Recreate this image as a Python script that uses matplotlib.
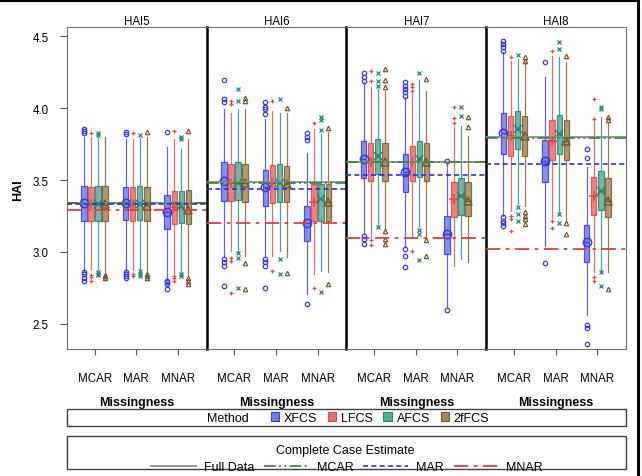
import numpy as np
import matplotlib
matplotlib.use("Agg")
import matplotlib.pyplot as plt
from matplotlib.patches import Patch, Rectangle
from matplotlib.lines import Line2D

plt.rcParams["font.family"] = ["Liberation Sans", "DejaVu Sans"]

PANELS = ["HAI5", "HAI6", "HAI7", "HAI8"]
MISSINGNESS = ["MCAR", "MAR", "MNAR"]
METHODS = ["XFCS", "LFCS", "AFCS", "2fFCS"]

# box stats per panel, rows = MCAR(X,L,A,2f), MAR(...), MNAR(...)
# columns: whisker low, q1, median, q3, whisker high, mean
HAI5_BOX = [
    [2.870, 3.218, 3.338, 3.461, 3.796, 3.338],
    [2.882, 3.218, 3.330, 3.454, 3.800, 3.330],
    [2.875, 3.218, 3.330, 3.461, 3.800, 3.335],
    [2.860, 3.213, 3.325, 3.461, 3.796, 3.330],
    [2.870, 3.222, 3.338, 3.454, 3.785, 3.338],
    [2.875, 3.218, 3.330, 3.449, 3.785, 3.330],
    [2.870, 3.222, 3.333, 3.461, 3.790, 3.335],
    [2.865, 3.218, 3.325, 3.449, 3.796, 3.320],
    [2.810, 3.160, 3.275, 3.396, 3.727, 3.280],
    [2.847, 3.194, 3.310, 3.426, 3.785, 3.310],
    [2.850, 3.200, 3.315, 3.426, 3.715, 3.320],
    [2.840, 3.194, 3.290, 3.431, 3.785, 3.290],
]
HAI5_OUT = [
    [3.854, 3.838, 3.825, 2.860, 2.845, 2.820, 2.800],
    [3.824, 2.840, 2.825, 2.800],
    [3.830, 3.815, 2.860, 2.850, 2.840],
    [2.840, 2.830, 2.820],
    [3.835, 3.820, 2.860, 2.848, 2.835, 2.820],
    [3.824, 2.845, 2.830],
    [3.815, 2.865, 2.850, 2.835],
    [3.831, 2.850, 2.835, 2.820],
    [3.831, 2.800, 2.790, 2.775, 2.740],
    [3.838, 2.835, 2.820, 2.800],
    [3.800, 3.785, 2.845, 2.835],
    [3.838, 2.820, 2.800, 2.780],
]

HAI6_BOX = [
    [2.963, 3.356, 3.490, 3.623, 3.993, 3.490],
    [3.010, 3.356, 3.480, 3.609, 3.963, 3.480],
    [3.000, 3.363, 3.480, 3.623, 3.993, 3.480],
    [2.970, 3.349, 3.480, 3.611, 3.993, 3.480],
    [2.963, 3.322, 3.450, 3.569, 3.924, 3.450],
    [2.970, 3.340, 3.477, 3.604, 3.981, 3.477],
    [3.009, 3.345, 3.480, 3.611, 3.963, 3.480],
    [2.963, 3.345, 3.470, 3.600, 3.963, 3.470],
    [2.708, 3.079, 3.200, 3.322, 3.690, 3.200],
    [2.847, 3.213, 3.350, 3.472, 3.854, 3.350],
    [2.870, 3.218, 3.368, 3.472, 3.819, 3.368],
    [2.859, 3.213, 3.350, 3.472, 3.831, 3.350],
]
HAI6_OUT = [
    [4.194, 4.060, 4.040, 2.950, 2.930, 2.905, 2.766],
    [4.050, 4.030, 2.960, 2.940, 2.715],
    [4.132, 4.050, 2.990, 2.960, 2.750],
    [4.070, 4.046, 2.920, 2.743],
    [4.040, 4.010, 3.990, 3.960, 2.950, 2.930, 2.905, 2.748],
    [4.050, 2.866],
    [4.062, 2.950, 2.847],
    [3.998, 2.852],
    [3.830, 3.800, 3.780, 2.639],
    [3.893, 2.748],
    [3.940, 3.917, 3.847, 2.720],
    [3.861, 2.778],
]

HAI7_BOX = [
    [3.125, 3.512, 3.646, 3.773, 4.178, 3.646],
    [3.102, 3.491, 3.623, 3.755, 4.148, 3.623],
    [3.183, 3.539, 3.670, 3.785, 4.132, 3.670],
    [3.155, 3.491, 3.623, 3.757, 4.120, 3.623],
    [3.032, 3.419, 3.553, 3.680, 4.074, 3.553],
    [3.102, 3.491, 3.623, 3.738, 4.097, 3.623],
    [3.171, 3.519, 3.646, 3.773, 4.194, 3.646],
    [3.102, 3.491, 3.623, 3.755, 4.120, 3.623],
    [2.616, 2.986, 3.125, 3.252, 3.620, 3.125],
    [2.905, 3.241, 3.368, 3.488, 3.866, 3.368],
    [2.951, 3.259, 3.390, 3.511, 3.877, 3.390],
    [2.933, 3.252, 3.356, 3.484, 3.808, 3.356],
]
HAI7_OUT = [
    [4.240, 4.213, 4.190, 3.113, 3.090, 3.055],
    [4.260, 4.185, 3.083, 3.049],
    [4.240, 4.185, 4.155, 3.171],
    [4.271, 4.197, 4.143, 3.148, 3.090, 3.055],
    [4.178, 4.155, 4.132, 4.110, 4.086, 3.021, 2.970, 2.894],
    [4.167, 4.143, 4.120, 3.005],
    [4.241, 3.153, 3.125, 2.947],
    [4.201, 3.086, 2.975],
    [3.634, 2.597],
    [4.005, 3.928, 3.896],
    [4.005, 3.947],
    [3.935, 3.866],
]

HAI8_BOX = [
    [3.252, 3.680, 3.826, 3.963, 4.387, 3.826],
    [3.287, 3.669, 3.808, 3.942, 4.329, 3.808],
    [3.333, 3.715, 3.854, 3.977, 4.340, 3.854],
    [3.322, 3.669, 3.808, 3.942, 4.317, 3.808],
    [3.044, 3.488, 3.634, 3.780, 4.213, 3.634],
    [3.234, 3.639, 3.773, 3.919, 4.359, 3.773],
    [3.275, 3.680, 3.819, 3.954, 4.352, 3.819],
    [3.218, 3.639, 3.773, 3.919, 4.317, 3.773],
    [2.560, 2.928, 3.072, 3.190, 3.588, 3.072],
    [2.859, 3.259, 3.391, 3.523, 3.900, 3.391],
    [2.870, 3.294, 3.426, 3.560, 3.935, 3.426],
    [2.863, 3.241, 3.356, 3.511, 3.900, 3.356],
]
HAI8_OUT = [
    [4.468, 4.444, 4.421, 4.398, 3.240, 3.218, 3.201, 3.178],
    [4.356, 3.252, 3.229, 3.143],
    [4.368, 3.315, 3.264, 3.218],
    [4.352, 4.329, 3.275, 3.252, 3.229, 3.194],
    [4.317, 2.924],
    [4.393, 3.218, 3.167],
    [4.456, 4.410, 3.264, 3.201],
    [4.363, 3.201, 3.125],
    [3.715, 3.650, 2.490, 2.470, 2.360],
    [4.062, 3.924, 2.824, 2.800],
    [4.005, 3.993, 2.859, 2.766],
    [3.935, 3.917, 2.743],
]

# complete case reference lines, one value per panel
FULL_DATA = [3.340, 3.484, 3.627, 3.800]
CC_MCAR = [3.338, 3.479, 3.627, 3.794]
CC_MAR = [3.333, 3.438, 3.535, 3.611]
CC_MNAR = [3.292, 3.204, 3.097, 3.021]

BOXES = [HAI5_BOX, HAI6_BOX, HAI7_BOX, HAI8_BOX]
OUTS = [HAI5_OUT, HAI6_OUT, HAI7_OUT, HAI8_OUT]

EDGE = ["#3b3be0", "#e04848", "#1f8a78", "#7a5a2c"]
FILL = ["#6f7ee6", "#e86e6a", "#5aa898", "#a8845a"]
MARK = ["o", "+", "x", "^"]
OFFSETS = [-0.255, -0.085, 0.085, 0.255]

LS_MCAR = (0, (7, 2, 1.2, 2, 1.2, 2))
LS_MAR = (0, (3, 2))
LS_MNAR = (0, (8, 3, 2, 3))

fig = plt.figure(figsize=(6.42, 4.77), dpi=100)
W, H = 642.0, 477.0

left0, right0 = 66.7, 626.0
top_px, bot_px = 27.7, 350.0
pw = (right0 - left0) / 4

for p, name in enumerate(PANELS):
    x0 = left0 + p * pw
    ax = fig.add_axes([x0 / W, 1 - bot_px / H, pw / W, (bot_px - top_px) / H])
    box = BOXES[p]
    out = OUTS[p]
    for g in range(len(MISSINGNESS)):
        for m in range(len(METHODS)):
            k = g * 4 + m
            lo, q1, med, q3, hi, mean = box[k]
            st = dict(whislo=lo, q1=q1, med=med, q3=q3, whishi=hi, mean=mean,
                      fliers=np.array(out[k]))
            ms_mean = 6 if m != 1 else 7
            ax.bxp([st], positions=[g + OFFSETS[m]], widths=0.13, patch_artist=True,
                   showmeans=True, showcaps=False,
                   boxprops=dict(facecolor=FILL[m], edgecolor=EDGE[m], linewidth=0.9, alpha=0.85),
                   whiskerprops=dict(color=EDGE[m], linewidth=0.9, alpha=0.8),
                   medianprops=dict(color=EDGE[m], linewidth=1.0),
                   meanprops=dict(marker=MARK[m], markersize=ms_mean, markerfacecolor="none",
                                  markeredgecolor=EDGE[m], markeredgewidth=1.1),
                   flierprops=dict(marker=MARK[m], markersize=3.2, markerfacecolor="none",
                                   markeredgecolor=EDGE[m], markeredgewidth=0.9,
                                   linestyle="none"))
    ax.axhline(FULL_DATA[p], color="#8c8c8c", linewidth=1.3, zorder=5)
    ax.axhline(CC_MCAR[p], color="#2e8b2e", linewidth=1.2, linestyle=LS_MCAR, zorder=5)
    ax.axhline(CC_MAR[p], color="#3030d0", linewidth=1.2, linestyle=LS_MAR, zorder=5)
    ax.axhline(CC_MNAR[p], color="#e04040", linewidth=1.3, linestyle=LS_MNAR, zorder=5)

    ax.set_xlim(-0.67, 2.69)
    ax.set_ylim(2.326, 4.565)
    ax.set_xticks(range(len(MISSINGNESS)))
    ax.set_xticklabels(MISSINGNESS, fontsize=8.3)
    ax.tick_params(axis="x", direction="out", length=4, width=0.8, color="#555555", pad=12.5)
    ax.set_xlabel("Missingness", fontsize=9, fontweight="bold", labelpad=9)
    ax.set_title(name, fontsize=8.3, pad=2)
    for s in ["top", "bottom", "left", "right"]:
        ax.spines[s].set_color("#707070")
        ax.spines[s].set_linewidth(0.8)
    ax.spines["right"].set_visible(p == 3)
    if p > 0:
        ax.spines["left"].set_color("black")
        ax.spines["left"].set_linewidth(1.8)
        ax.set_yticks([])
    else:
        ax.set_yticks([2.5, 3.0, 3.5, 4.0, 4.5])
        ax.set_yticklabels(["2.5", "3.0", "3.5", "4.0", "4.5"], fontsize=8.3)
        ax.tick_params(axis="y", direction="out", length=5, width=0.8, color="#555555", pad=8)

fig.text(18 / W, 1 - 190 / H, "HAI", rotation=90, fontsize=9, fontweight="bold",
         ha="center", va="center")

# legend 1: method
fig.add_artist(Rectangle((left0 / W, 1 - 427 / H), (right0 - left0) / W, 17 / H,
                         transform=fig.transFigure, fill=False, edgecolor="#404040", linewidth=1))
fig.text(228 / W, 1 - 419 / H, "Method", fontsize=9, ha="center", va="center")
meth_handles = [Patch(facecolor=FILL[m], edgecolor=EDGE[m], linewidth=0.8) for m in range(4)]
fig.legend(meth_handles, METHODS, ncol=4, loc="center", bbox_to_anchor=(380 / W, 1 - 419 / H),
           frameon=False, fontsize=9, handlelength=0.65, handleheight=0.65,
           handletextpad=0.4, columnspacing=0.85, borderpad=0)

# legend 2: complete case estimate
fig.add_artist(Rectangle((left0 / W, 1 - 470 / H), (right0 - left0) / W, 33 / H,
                         transform=fig.transFigure, fill=False, edgecolor="#404040", linewidth=1))
fig.text(345 / W, 1 - 451 / H, "Complete Case Estimate", fontsize=9, ha="center", va="center")
ref_handles = [
    Line2D([], [], color="#8c8c8c", linewidth=1.3),
    Line2D([], [], color="#2e8b2e", linewidth=1.2, linestyle=LS_MCAR),
    Line2D([], [], color="#3030d0", linewidth=1.2, linestyle=LS_MAR),
    Line2D([], [], color="#e04040", linewidth=1.3, linestyle=LS_MNAR),
]
fig.legend(ref_handles, ["Full Data", "MCAR", "MAR", "MNAR"], ncol=4, loc="center",
           bbox_to_anchor=(347 / W, 1 - 468.5 / H), frameon=False, fontsize=9,
           handlelength=3.6, handletextpad=0.6, columnspacing=0.8, borderpad=0)

# outer frame (top and right edges)
fig.add_artist(Line2D([0, 638 / W], [1 - 1 / H, 1 - 1 / H], transform=fig.transFigure,
                      color="black", linewidth=2.2))
fig.add_artist(Line2D([638 / W, 638 / W], [0, 1], transform=fig.transFigure,
                      color="black", linewidth=2.2))

fig.savefig("out.png", dpi=100)
